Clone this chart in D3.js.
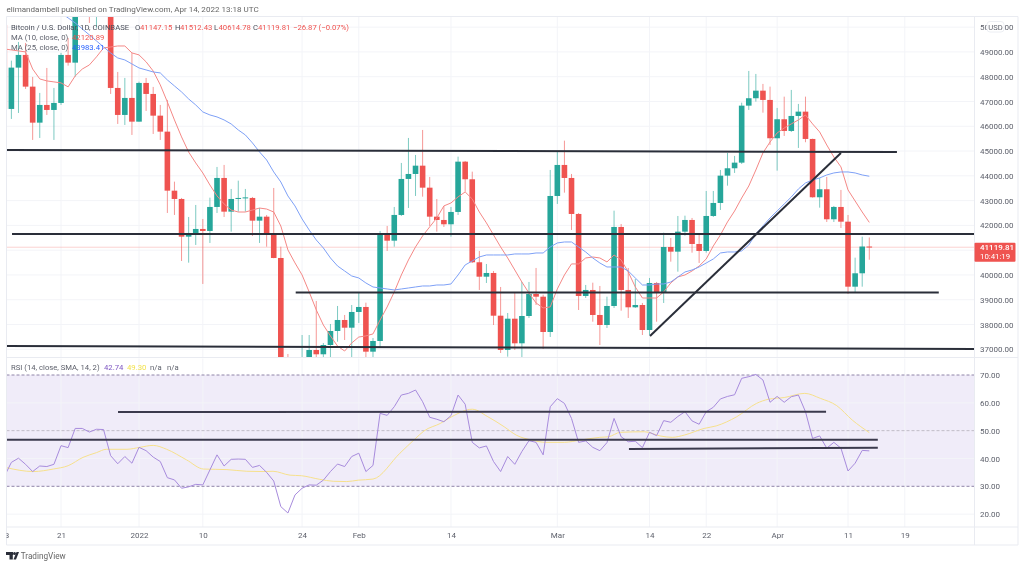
<!DOCTYPE html>
<html><head><meta charset="utf-8">
<style>
html,body{margin:0;padding:0;background:#fff;overflow:hidden}
svg{display:block;filter:blur(.3px)}
text{font-family:Roboto,"Open Sans",sans-serif}
</style>
<script src="https://cdn.jsdelivr.net/npm/d3@7/dist/d3.min.js"></script>
</head><body><svg id="c" width="1024" height="567"></svg>
<script>
// ---- candles, Dec 13 2021 .. Apr 14 2022, one per day
const opens=[50089,46699,48366,48878,47599,46146,46860,46658,46941,48878,48567,
50820,50830,50700,50800,50700,47546,46457,47143,
46186,47748,47304,46428,45783,43401,43066,41545,41694,41856,41775,42744,43914,42554,43066,43107,43107,42191,42352,41634,40685,36470,35050,36280,36600,36972,36799,37174,37739,38183,37872,
38506,38708,36904,37335,41613,41383,42421,43874,44075,44410,43522,42352,42219,42045,42542,44572,43861,40512,39930,40080,38356,36972,38235,37242,38344,39232,39123,37699,
43187,44439,43914,42461,39151,39394,38385,37981,38748,41936,39394,38695,38788,37779,39676,39273,41129,40940,41747,42219,41250,40968,42380,42905,44007,44305,44532,46832,47131,47437,47062,
45516,46283,45811,46416,46590,45488,43135,43458,42247,42744,42150,39527,40067,41147.15];
const highs=[50320,48648,49403,49363,47990,47345,48353,47546,48959,49564,51380,
51800,51200,51300,52000,51000,48192,47950,48959,
47800,47950,47587,46860,47062,43765,43107,42340,42824,42259,43119,44358,44439,43470,43805,43470,43147,42703,42421,43510,41141,36811,36500,37577,37577,38950,37254,38021,38748,38385,38788,
39273,38881,37456,41775,41977,42744,44519,45528,44842,45851,43954,43066,42784,42744,44774,44600,44168,40968,40443,40160,39515,38465,39273,39717,39717,40282,39200,44237,
44975,45419,44075,42501,39596,39688,39555,39123,42594,42057,40282,39838,38869,39878,39717,41706,41492,42380,42392,42300,41613,43389,43389,44237,44923,44802,46953,48232,48111,47708,47599,
46739,47195,47466,46901,47195,45500,43914,43954,42784,43430,42421,40697,41545,41512.43];
const lows=[46578,46295,46537,47506,45448,45528,46457,45448,46860,48446,48002,
50500,50170,49968,50480,47304,46093,46053,45649,
46186,46618,45690,45448,42501,42421,40564,40496,41210,39636,41291,42501,42340,41747,42554,42554,41573,41291,41141,40673,35500,34000,34600,32900,35700,35700,35500,36200,37307,37375,36600,
38062,36600,36300,37053,40968,41141,42380,42703,43187,43159,41977,41747,41936,41545,42421,43361,40484,39394,39676,37981,36851,36702,36972,34400,38264,38788,37012,37497,
42865,43321,41815,38586,39071,38114,37174,37860,38667,38558,38264,38667,37577,37577,38114,38869,40536,40132,41585,40899,40484,40899,42340,42622,43603,44116,44479,46658,46993,46549,45246,
44209,45609,45770,45125,45355,43119,42715,42138,42138,41896,39232,39273,39527,40614.78];
const closes=[46699,48366,48878,47599,46146,46860,46658,46941,48878,48567,50820,
50830,50700,50800,50700,47546,46457,47143,46186,
47748,47304,46428,45783,43401,43066,41545,41694,41856,41775,42744,43914,42554,43066,43107,43130,42191,42352,41634,40685,36470,35050,36280,36600,36972,36799,37174,37739,38183,37872,38506,
38708,36904,37335,41613,41383,42421,43874,44075,44410,43522,42352,42219,42045,42542,44572,43861,40512,39930,40080,38356,36972,38235,37242,38344,39232,39123,37699,43187,
44439,43914,42461,39151,39394,38385,37981,38748,41936,39394,38695,38788,37779,39676,39273,41129,40940,41747,42219,41250,40968,42380,42905,44007,44305,44532,46832,47131,47437,47062,45516,
46283,45811,46416,46590,45488,43135,43458,42247,42744,42150,39527,40067,41147.15,41119.81];
// ---- moving averages
const ma10=[49120,49080,49040,49000,48310,47910,47830,47790,47750,47590,48030,48310,48475,48800,49160,49200,49240,49240,48960,48880,48600,48230,47670,46980,46255,45570,44960,44520,44115,43630,43190,42865,42620,42540,42540,42620,42700,42660,42540,41975,41010,40485,40000,39315,38590,37980,37540,37130,36930,37255,37495,37540,37620,38180,38710,39315,40000,40605,41130,41575,41940,42300,42785,42905,43150,43350,43065,42540,42100,41615,41130,40685,40200,39715,39270,38870,38670,38710,39435,40000,40445,40445,40685,40725,40685,40525,40805,40605,40120,39515,39070,39070,39070,39315,39675,39920,40000,40160,40360,40645,41170,41615,42140,42580,43105,43590,44235,44925,45365,45730,45930,46095,46255,46455,46095,45770,45245,44760,44360,43430,42985,42540,42120.89];
const ma25Start=8;
const ma25=[50573,50372,50170,49928,49685,49443,49201,48959,48757,48676,48515,48354,48273,48192,48152,47869,47627,47385,47102,46860,46578,46457,46376,46255,46093,45851,45649,45327,44963,44640,44156,43752,43187,42784,42259,41815,41412,41089,40685,40362,40160,39959,39878,39676,39515,39474,39434,39394,39434,39474,39515,39555,39555,39595,39595,39636,40000,40403,40564,40726,40806,40806,40806,40806,40847,40847,40847,40887,40887,41129,41291,41331,41331,41129,40927,40685,40483,40322,40322,40322,40160,39878,39595,39595,39636,39636,39716,39918,40120,40201,40322,40483,40645,40887,40927,40927,40968,41210,41654,41977,42300,42582,42865,43147,43470,43712,43833,43914,44035,44116,44156,44156,44116,44035,43983.41];
// ---- RSI pane
const rsi=[33.5,38.6,40.1,37.9,35.3,37.3,37.1,37.9,44.6,43.9,50.8,50.8,49.5,50.5,50.4,41.0,38.1,40.7,38.3,44.0,42.8,40.5,38.9,33.1,32.3,29.3,29.8,30.7,30.5,35.9,41.3,37.3,39.7,39.8,39.7,36.8,37.5,35.0,31.9,22.7,20.4,26.9,29.3,30.5,30.4,32.2,35.3,38.0,37.1,40.7,41.9,35.3,37.5,56.2,55.5,58.6,62.8,63.4,64.6,60.4,54.8,54.1,53.2,55.4,62.8,59.5,45.8,43.8,44.5,38.9,35.3,40.7,37.9,42.5,46.4,45.8,41.3,58.6,61.5,59.8,54.4,45.8,46.3,44.0,42.8,45.7,54.4,47.8,46.0,46.2,43.9,49.4,48.2,53.6,53.0,55.1,56.8,53.5,52.3,56.8,58.4,61.4,62.3,62.9,68.8,69.4,70.2,68.2,60.2,62.3,60.2,62.2,62.8,56.8,47.2,48.1,43.7,45.8,43.7,35.5,38.3,42.9,42.74];
const rsiMaDays=[0.3,4.1,6.9,9,11.1,13,14.4,17.3,19.1,21,22.9,25.7,28.1,31.4,34.2,36.5,37.9,40.3,41.9,44.5,46.4,48.3,49.9,52,55.8,58,59.2,61.5,63.1,66,68.2,70.5,72.2,74.4,76.4,79,81.2,84,85.2,86.9,90.3,92.5,94.2,95.9,98.7,100.4,103.3,106.1,107.8,110,112.9,115.1,117.4,119.6,122];
const rsiMa=[36.7,35.3,36.2,37.4,40.4,42.1,43.3,43.3,44.0,44.7,43.3,39.5,36.2,36.0,35.4,35.3,35.4,34.0,33.8,32.5,31.8,31.7,32.2,32.6,41.9,47.2,49.9,52.6,55.0,57.7,55.0,51.4,48.4,46.6,45.8,45.8,46.6,47.6,47.8,49.4,49.6,48.1,47.6,48.4,50.8,51.7,55.0,59.8,61.3,61.9,63.4,61.6,59.0,53.8,49.30];
// ---- hand-drawn horizontal and trend lines: [day, value, day, value]
const priceDrawings=[[0.24,45044,125.9,44963],[1.09,41654,136.8,41654],[41.1,39290,131.8,39290],[0.24,37133,136.8,37012],[91.07,37537,118,44923]];
const rsiDrawings=[[16.04,56.7,115.9,56.8],[0.24,46.7,123.2,46.7],[88.1,43.4,123.2,43.85]];
// ---- ticks
const priceTicks=[37000,38000,39000,40000,41000,42000,43000,44000,45000,46000,47000,48000,49000,50000];
const priceTickHiddenByTag=41000;
const rsiTicks=[20,30,40,50,60,70];
const timeTickDays=[0,8,19,28,42,50,63,78,91,99,109,119,127];
const timeTickLabels=["13","21","2022","10","24","Feb","14","Mar","14","22","Apr","11","19"];
const lastPrice=41119.81;

const svg=d3.select("#c");
const L=6.5,R=974.5,OUT=1018,T=16.5,M=357.5,B=527,E=545;
const x=d3.scaleLinear().domain([0,122]).range([4.3,869.3]);
const yP=d3.scaleLinear().domain([37000,48000]).range([349.3,76.7]);
const yR=d3.scaleLinear().domain([30,70]).range([486.3,375]);
const defs=svg.append("defs");
defs.append("clipPath").attr("id","cp").append("rect").attr("x",L).attr("y",T).attr("width",R-L).attr("height",M-T);
defs.append("clipPath").attr("id","cr").append("rect").attr("x",L).attr("y",M+1).attr("width",R-L).attr("height",B-M-1);
defs.append("clipPath").attr("id","ct").append("rect").attr("x",L).attr("y",B).attr("width",R-L).attr("height",E-B);

const GRID="#f3f4f8",BORDER="#e9ebf1",TXT="#5c5f6a";
// grid
const gp=svg.append("g").attr("clip-path","url(#cp)");
const gr=svg.append("g").attr("clip-path","url(#cr)");
gr.append("rect").attr("x",L).attr("y",yR(70)).attr("width",R-L).attr("height",yR(30)-yR(70)).attr("fill","#f0ecf9");
[gp,gr].forEach((g,k)=>{
  g.selectAll("line.v").data(timeTickDays).join("line").attr("class","v")
    .attr("x1",d=>x(d)).attr("x2",d=>x(d)).attr("y1",k?M:T).attr("y2",k?B:M).attr("stroke",GRID).attr("stroke-width",1);
});
gp.selectAll("line.h").data(priceTicks).join("line").attr("class","h")
  .attr("x1",L).attr("x2",R).attr("y1",d=>yP(d)).attr("y2",d=>yP(d)).attr("stroke",GRID);
gr.selectAll("line.h").data(rsiTicks.filter(d=>d%20==0)).join("line").attr("class","h")
  .attr("x1",L).attr("x2",R).attr("y1",d=>yR(d)).attr("y2",d=>yR(d)).attr("stroke",GRID);
[[70,"#8f84a8"],[50,"#c0bcc8"],[30,"#8f84a8"]].forEach(([v,c])=>{
  gr.append("line").attr("x1",L).attr("x2",R).attr("y1",yR(v)).attr("y2",yR(v)).attr("stroke",c).attr("stroke-width",1).attr("stroke-dasharray","3 2");
});
// frame
[[L,T,OUT,T],[L,M,OUT,M],[L,B,OUT,B],[L,E,OUT,E],[L,T,L,E],[R,T,R,E],[OUT,T,OUT,E]].forEach(a=>{
  svg.append("line").attr("x1",a[0]).attr("y1",a[1]).attr("x2",a[2]).attr("y2",a[3]).attr("stroke",BORDER).attr("stroke-width",1);
});
// last price line
gp.append("line").attr("x1",L).attr("x2",R).attr("y1",yP(lastPrice)).attr("y2",yP(lastPrice)).attr("stroke","#f6a5a3").attr("stroke-width",1).attr("stroke-dasharray","1 1");
// candles
const UP="#26a69a",DN="#ef5350";
const idx=d3.range(closes.length);
const col=i=>closes[i]>=opens[i]?UP:DN;
gp.selectAll("line.w").data(idx).join("line").attr("class","w")
  .attr("x1",i=>x(i)).attr("x2",i=>x(i)).attr("y1",i=>yP(highs[i])).attr("y2",i=>yP(lows[i]))
  .attr("stroke",col).attr("stroke-width",1).attr("stroke-opacity",.6);
gp.selectAll("rect.b").data(idx).join("rect").attr("class","b")
  .attr("x",i=>x(i)-2.8).attr("width",5.6)
  .attr("y",i=>yP(Math.max(opens[i],closes[i])))
  .attr("height",i=>Math.max(1,Math.abs(yP(opens[i])-yP(closes[i]))))
  .attr("fill",col);
// MAs
const lP=d3.line().x(d=>x(d[0])).y(d=>yP(d[1]));
gp.append("path").attr("d",lP(ma10.map((v,i)=>[i,v]))).attr("fill","none").attr("stroke","#f48886").attr("stroke-width",1);
gp.append("path").attr("d",lP(ma25.map((v,i)=>[i+ma25Start,v]))).attr("fill","none").attr("stroke","#7ea0f6").attr("stroke-width",1);
// drawings
gp.selectAll("line.d").data(priceDrawings).join("line").attr("class","d")
  .attr("x1",d=>x(d[0])).attr("y1",d=>yP(d[1])).attr("x2",d=>x(d[2])).attr("y2",d=>yP(d[3]))
  .attr("stroke","#2a2e39").attr("stroke-width",2);
// RSI lines
const lR=d3.line().x(d=>x(d[0])).y(d=>yR(d[1]));
gr.append("path").attr("d",d3.line().curve(d3.curveMonotoneX).x(d=>x(d[0])).y(d=>yR(d[1]))(rsiMa.map((v,i)=>[rsiMaDays[i],v]))).attr("fill","none").attr("stroke","#f6e08c").attr("stroke-width",1);
gr.append("path").attr("d",lR(rsi.map((v,i)=>[i,v]))).attr("fill","none").attr("stroke","#a78bdc").attr("stroke-width",1);
gr.selectAll("line.d").data(rsiDrawings).join("line").attr("class","d")
  .attr("x1",d=>x(d[0])).attr("y1",d=>yR(d[1])).attr("x2",d=>x(d[2])).attr("y2",d=>yR(d[3]))
  .attr("stroke","#3b3a4d").attr("stroke-width",2);
// axes
function style(g){g.select(".domain").remove();g.selectAll("text").attr("fill",TXT).style("font-size","8px").style("font-family","Roboto, sans-serif");}
svg.append("g").attr("transform",`translate(${R},0)`).call(d3.axisRight(yP).tickValues(priceTicks.filter(d=>d!==priceTickHiddenByTag)).tickFormat(d3.format(".2f")).tickSize(0).tickPadding(5.5)).call(style);
svg.append("g").attr("transform",`translate(${R},0)`).call(d3.axisRight(yR).tickValues(rsiTicks).tickFormat(d3.format(".2f")).tickSize(0).tickPadding(5.5)).call(style);
svg.append("g").attr("clip-path","url(#ct)").append("g").attr("transform",`translate(0,${B})`)
  .call(d3.axisBottom(x).tickValues(timeTickDays).tickFormat((d,i)=>timeTickLabels[i]).tickSize(0).tickPadding(5)).call(style);
// USD tag
svg.append("rect").attr("x",987).attr("y",21.5).attr("width",17).attr("height",10.5).attr("rx",3).attr("fill","#fff").attr("stroke","#eceef3");
svg.append("text").attr("x",995.5).attr("y",29.5).attr("text-anchor","middle").attr("font-size",7.6).attr("fill",TXT).text("USD");
// last price tag
svg.append("rect").attr("x",R).attr("y",242.7).attr("width",41).attr("height",19).attr("rx",1).attr("fill",DN);
svg.append("text").attr("x",980).attr("y",250.3).attr("font-size",8).attr("font-weight",500).attr("fill","#fff").text(d3.format(".2f")(lastPrice));
svg.append("text").attr("x",980).attr("y",259.3).attr("font-size",7.8).attr("fill","#fff").text("10:41:19");
// texts
function t(xp,yp,s,c,fs,w){return svg.append("text").attr("x",xp).attr("y",yp).attr("font-size",fs||7.7).attr("fill",c||TXT).attr("font-weight",w||400).text(s);}
t(6.5,12,"elimandambell published on TradingView.com, Apr 14, 2022 13:18 UTC","#666",8.05);
t(11,29.5,"Bitcoin / U.S. Dollar, 1D, COINBASE","#4a4e59");
t(135,29.5,"O","#4a4e59"); t(140,29.5,"41147.15",DN);
t(175,29.5,"H","#4a4e59"); t(180,29.5,"41512.43",DN);
t(214,29.5,"L","#4a4e59"); t(218.5,29.5,"40614.78",DN);
t(253,29.5,"C","#4a4e59"); t(258,29.5,"41119.81",DN);
t(293,29.5,"\u221226.87 (\u22120.07%)",DN);
t(11,39.5,"MA (10, close, 0)","#5c5f6a"); t(72,39.5,"42120.89",DN);
t(11,50.3,"MA (25, close, 0)","#5c5f6a"); t(72,50.3,"43983.41","#2962ff");
t(11,369.8,"RSI (14, close, SMA, 14, 2)","#5c5f6a");
t(104,369.8,"42.74","#7e57c2"); t(127,369.8,"49.30","#f2e24c");
t(150,369.8,"n/a","#5c5f6a"); t(167,369.8,"n/a","#5c5f6a");
// logo
const lg=svg.append("g").attr("fill","#2a2e39");
lg.append("rect").attr("x",6).attr("y",552).attr("width",7).attr("height",3);
lg.append("rect").attr("x",9.5).attr("y",552).attr("width",3.3).attr("height",7.5);
lg.append("circle").attr("cx",14.5).attr("cy",553.5).attr("r",1.5);
lg.append("path").attr("d",d3.line()([[13.5,559.5],[16.5,552],[19,552],[16,559.5]]));
t(20.7,559.3,"TradingView","#666",8.2);
</script></body></html>
